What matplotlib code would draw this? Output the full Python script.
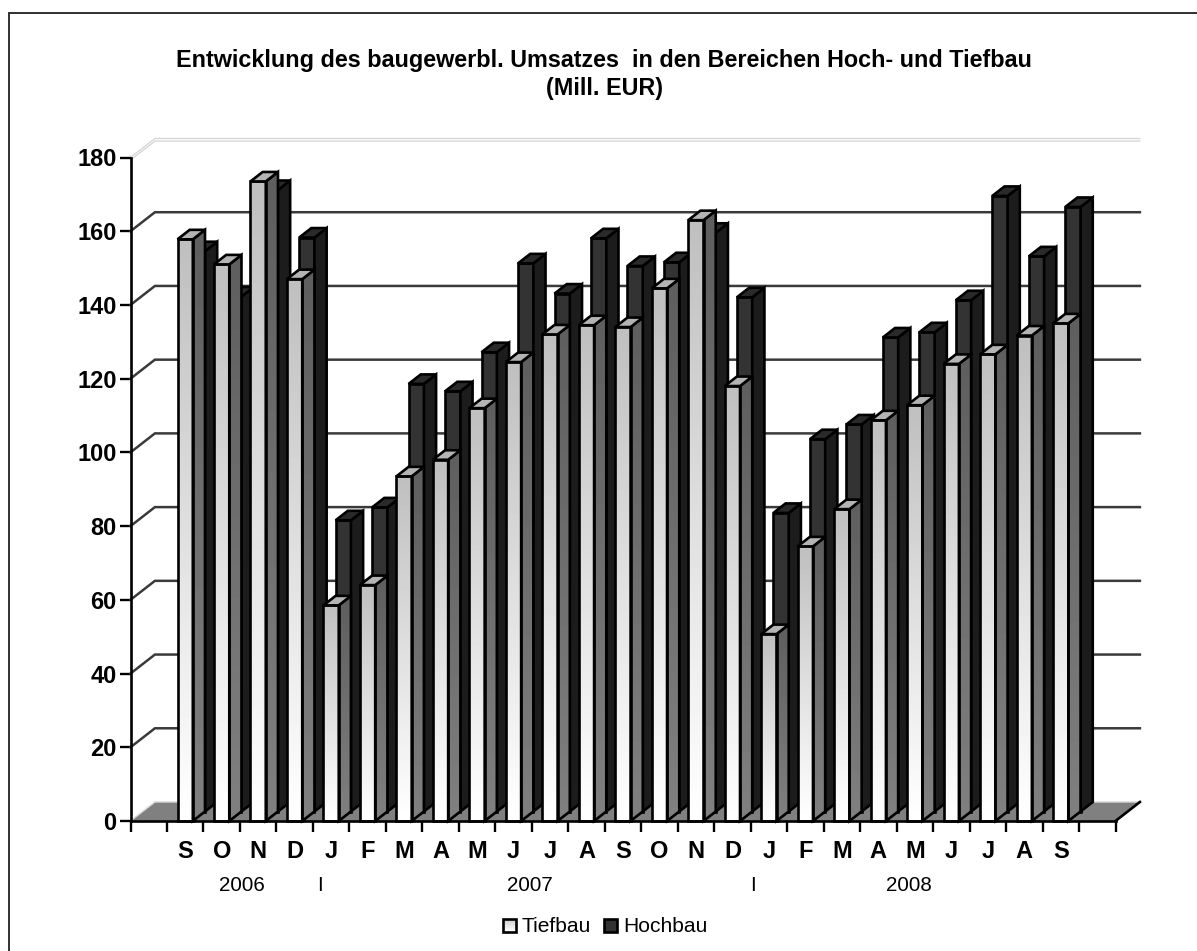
import numpy as np
import matplotlib
matplotlib.use("Agg")
import matplotlib.pyplot as plt
from matplotlib.lines import Line2D
from matplotlib.patches import Polygon, Rectangle

plt.rcParams['font.family'] = ['Liberation Sans', 'DejaVu Sans']

W, H = 1197, 951

months = ['S', 'O', 'N', 'D', 'J', 'F', 'M', 'A', 'M', 'J', 'J', 'A', 'S',
          'O', 'N', 'D', 'J', 'F', 'M', 'A', 'M', 'J', 'J', 'A', 'S']
tiefbau = [157.8, 151, 173.5, 147, 58.5, 64, 93.5, 98, 112, 124.5, 132, 134.5, 134,
           144.5, 163, 118, 50.7, 74.5, 84.6, 108.7, 112.8, 124, 126.6, 131.7, 135]
hochbau = [152, 139.7, 168.6, 155.7, 79, 82.5, 116, 114, 124.6, 148.7, 140.5, 155.5, 148,
           149, 157, 139.5, 81, 101, 105, 128.6, 130, 138.7, 167, 150.6, 164]
y_ticks = list(range(0, 181, 20))
year_labels = ['2006', 'I', '2007', 'I', '2008']
year_pos = [3.05, 5.2, 10.95, 17.05, 21.33]
title_lines = ['Entwicklung des baugewerbl. Umsatzes  in den Bereichen Hoch- und Tiefbau', '(Mill. EUR)']


def px_box(left, top, right, bottom):
    return [left / W, 1 - bottom / H, (right - left) / W, (bottom - top) / H]


fig = plt.figure(figsize=(W / 100, H / 100), dpi=100, facecolor='white')

# the frame only shows on top and left, the rest is cut off
fig.add_artist(Line2D([8.5 / W, 8.5 / W, 1], [0, 1 - 13 / H, 1 - 13 / H], transform=fig.transFigure,
                      color='#303030', lw=1.4, solid_joinstyle='miter'))

# front plane of the chart, depth is drawn by hand as an offset from it
ax = fig.add_axes(px_box(130.5, 157.5, 1115.5, 821))
ax.set_xlim(0, 27)
ax.set_ylim(0, 180)
ax.patch.set_alpha(0)

slot = 985 / 27
unit = 663.5 / 180
dx = 12.2 / slot   # depth of one bar in x
dy = 9.5 / unit    # depth of one bar in y
bw = 15.3 / slot
gap = (177.5 - 130.5) / slot - 1
edge = 1.9

# floor and walls
ax.add_patch(Polygon([(0, 0), (2 * dx, 2 * dy), (27 + 2 * dx, 2 * dy), (27, 0)], closed=True,
                     facecolor='#808080', edgecolor='none', zorder=1, clip_on=False))
for off in (0, 0.7):
    ax.plot([0, 2 * dx, 27 + 2 * dx], [180 - off, 180 + 2 * dy - off, 180 + 2 * dy - off],
            color='#d4d4d4', lw=0.9, zorder=1, clip_on=False, solid_joinstyle='miter')
ax.plot([0, 2 * dx, 27 + 2 * dx], [0, 2 * dy, 2 * dy], color='#d8d8d8', lw=1.0,
        zorder=1, clip_on=False)
ax.plot([27, 27 + 2 * dx], [0, 2 * dy], color='black', lw=edge, zorder=2, clip_on=False)
for v in y_ticks[1:-1]:
    ax.plot([0, 2 * dx, 27 + 2 * dx], [v, v + 2 * dy, v + 2 * dy], color='#3a3a3a', lw=1.8,
            zorder=2, clip_on=False, solid_joinstyle='miter')


def ramp_image(x0, x1, y0, y1, top, bottom, z):
    ramp = np.linspace(top, bottom, 64).reshape(-1, 1)
    return ax.imshow(ramp, extent=(x0, x1, y0, y1), origin='upper', cmap='gray', vmin=0, vmax=1,
                     aspect='auto', zorder=z, clip_on=True, interpolation='bilinear')


def bar3d(x, v, depth, front, side, topcol, z):
    bx = x + depth * dx
    by = depth * dy
    x1 = bx + bw
    y1 = by + v
    if isinstance(front, tuple):
        ramp_image(bx, x1, by, y1, front[0], front[1], z).set_clip_on(False)
        ax.add_patch(Rectangle((bx, by), bw, v, fill=False, edgecolor='black', lw=edge,
                               zorder=z + 0.1, clip_on=False))
    else:
        ax.add_patch(Rectangle((bx, by), bw, v, facecolor=front, edgecolor='black', lw=edge,
                               zorder=z + 0.1, clip_on=False))
    side_pts = [(x1, by), (x1 + dx, by + dy), (x1 + dx, y1 + dy), (x1, y1)]
    if isinstance(side, tuple):
        im = ramp_image(x1, x1 + dx, by, y1 + dy, side[0], side[1], z)
        im.set_clip_path(Polygon(side_pts, closed=True, transform=ax.transData))
        ax.add_patch(Polygon(side_pts, closed=True, fill=False, edgecolor='black', lw=edge,
                             zorder=z + 0.1, clip_on=False))
    else:
        ax.add_patch(Polygon(side_pts, closed=True, facecolor=side, edgecolor='black', lw=edge,
                             zorder=z + 0.1, clip_on=False))
    ax.add_patch(Polygon([(bx, y1), (x1, y1), (x1 + dx, y1 + dy), (bx + dx, y1 + dy)], closed=True,
                         facecolor=topcol, edgecolor='black', lw=edge, zorder=z + 0.1, clip_on=False))


xs = np.arange(len(months)) + 1 + gap
for i, v in enumerate(hochbau):
    bar3d(xs[i], v, 1, '#333333', '#1c1c1c', '#2a2a2a', 3 + i * 0.001)
for i, v in enumerate(tiefbau):
    bar3d(xs[i], v, 0, (0.75, 1.0), (0.37, 0.50), '#b4b4b4', 4 + i * 0.001)

ax.set_xlim(0, 27)
ax.set_ylim(0, 180)
ax.set_xticks(np.arange(0, 28))
ax.set_xticklabels([])
ax.set_yticks(y_ticks)
ax.set_yticklabels([str(v) for v in y_ticks], fontsize=17, fontweight='bold')
ax.tick_params(axis='x', direction='out', length=8, width=1.7, pad=0)
ax.tick_params(axis='y', direction='out', length=8, width=1.7, pad=2)
for s in ['top', 'right']:
    ax.spines[s].set_visible(False)
for s in ['left', 'bottom']:
    ax.spines[s].set_linewidth(1.9)
    ax.spines[s].set_zorder(6)

trans = ax.get_xaxis_transform()
for i, m in enumerate(months):
    ax.text(i + 1.5, -0.046, m, transform=trans, ha='center', va='center', fontsize=17,
            fontweight='bold', color='black')
for label, pos in zip(year_labels, year_pos):
    ax.text(pos, -0.097, label, transform=trans, ha='center', va='center',
            fontsize=14.8, color='black')

fig.text(604 / W, 1 - 61 / H, title_lines[0], ha='center', va='center', fontsize=16.85, fontweight='bold')
fig.text(604 / W, 1 - 89 / H, title_lines[1], ha='center', va='center', fontsize=16.85, fontweight='bold')

# legend
lax = fig.add_axes([0, 0, 1, 1], zorder=-1)
lax.axis('off')
fig.text(522 / W, 1 - 926 / H, 'Tiefbau', ha='left', va='center', fontsize=15.1)
fig.text(623.5 / W, 1 - 926 / H, 'Hochbau', ha='left', va='center', fontsize=15.1)
lax.imshow(np.linspace(0.8, 1.0, 16).reshape(-1, 1), extent=(503, 516, 932, 919), cmap='gray',
           vmin=0, vmax=1, aspect='auto')
lax.add_patch(Rectangle((503, 919), 13, 13, fill=False, edgecolor='black', lw=1.9))
lax.add_patch(Rectangle((604, 919), 13, 13, facecolor='#333333', edgecolor='black', lw=1.9))
lax.set_xlim(0, W)
lax.set_ylim(H, 0)

fig.savefig('out.png', dpi=100)
